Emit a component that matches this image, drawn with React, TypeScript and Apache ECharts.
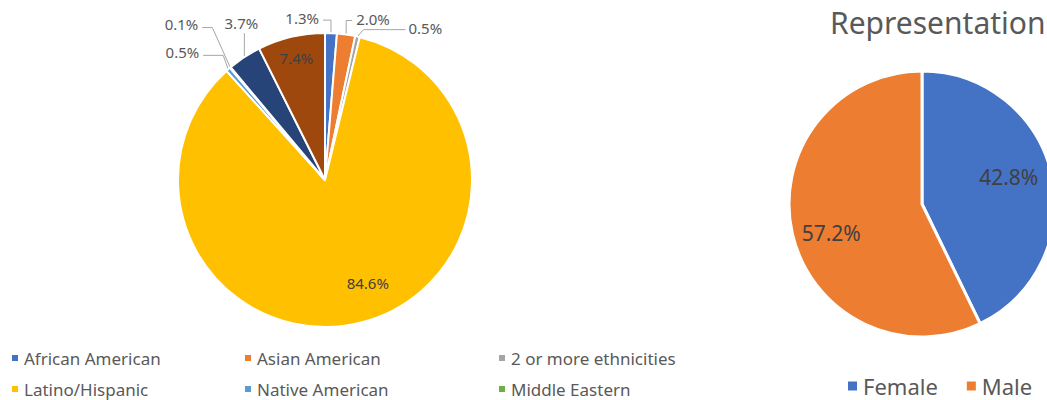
import React, { useEffect, useRef } from "react";
import * as echarts from "echarts";

const ethnicityNames = [
  "African American",
  "Asian American",
  "2 or more ethnicities",
  "Latino/Hispanic",
  "Native American",
  "Middle Eastern",
  "White",
  "Other",
];
const ethnicityValues = [1.3, 2.0, 0.5, 84.6, 0.5, 0.1, 3.7, 7.4];
const ethnicityColors = ["#4472C4", "#ED7D31", "#A5A5A5", "#FFC000", "#5B9BD5", "#70AD47", "#264478", "#9E480E"];
const legendColumns = [
  ["African American", "Latino/Hispanic"],
  ["Asian American", "Native American"],
  ["2 or more ethnicities", "Middle Eastern"],
];

const genderNames = ["Female", "Male"];
const genderValues = [42.8, 57.2];
const genderColors = ["#4472C4", "#ED7D31"];
const genderTitle = "Representation";

const FONT = "Noto Sans";
const pct = (p: any) => Number(p.value).toFixed(1) + "%";

export default function App() {
  const ref = useRef<HTMLDivElement>(null);
  useEffect(() => {
    document.body.style.margin = "0";
    if (!ref.current) return;
    const chart = echarts.init(ref.current, undefined, { renderer: "svg" });

    const leftCenter = [325, 180];
    const leftR = 147;
    const insideIdx = [3, 7];
    const insideShift: Record<number, [number, number]> = { 3: [24, 29], 7: [-11, -48] };
    const callouts: Record<number, { ex: number; ey: number; hx: number; align: string; lx: number; ly: number }> = {
      0: { ex: 0, ey: -13, hx: -8, align: "right", lx: -4, ly: -2 },
      1: { ex: 0, ey: -14, hx: 6, align: "left", lx: 4, ly: -2 },
      2: { ex: 6, ey: -7, hx: 42, align: "left", lx: 3, ly: -2 },
      4: { ex: -5, ey: -14, hx: -20, align: "right", lx: -4, ly: -3 },
      5: { ex: -18, ey: -40, hx: -10, align: "right", lx: -4, ly: -4 },
      6: { ex: 0, ey: -24, hx: 0, align: "center", lx: -3, ly: -10 },
    };
    const total = ethnicityValues.reduce((a, b) => a + b, 0);
    const anchorOf = (i: number): [number, number] => {
      let cum = 0;
      for (let k = 0; k < i; k++) cum += ethnicityValues[k];
      const mid = ((cum + ethnicityValues[i] / 2) / total) * Math.PI * 2;
      return [leftCenter[0] + leftR * Math.sin(mid), leftCenter[1] - leftR * Math.cos(mid)];
    };

    const legendBase = {
      orient: "vertical",
      top: 348,
      padding: 0,
      itemGap: 11,
      itemWidth: 8,
      itemHeight: 8,
      icon: "rect",
      selectedMode: false,
      textStyle: { fontFamily: FONT, fontSize: 17, color: "#595959", lineHeight: 20 },
    };

    chart.setOption({
      animation: false,
      textStyle: { fontFamily: FONT },
      title: {
        text: genderTitle,
        left: 830,
        top: 7,
        padding: 0,
        textStyle: { fontFamily: FONT, fontSize: 30, fontWeight: "normal", color: "#595959" },
      },
      legend: [
        { ...legendBase, left: 10, data: legendColumns[0] },
        { ...legendBase, left: 243, data: legendColumns[1] },
        { ...legendBase, left: 497, data: legendColumns[2] },
        {
          orient: "horizontal",
          left: 846,
          top: 375,
          padding: 0,
          itemGap: 27,
          itemWidth: 11,
          itemHeight: 11,
          icon: "rect",
          selectedMode: false,
          data: genderNames,
          textStyle: { fontFamily: FONT, fontSize: 22, color: "#595959", lineHeight: 22 },
        },
      ],
      series: [
        {
          type: "pie",
          center: leftCenter,
          radius: leftR,
          startAngle: 90,
          clockwise: true,
          avoidLabelOverlap: false,
          itemStyle: { borderColor: "#ffffff", borderWidth: 2 },
          label: {
            show: true,
            position: "outside",
            formatter: pct,
            fontFamily: FONT,
            fontSize: 15,
            color: "#595959",
          },
          labelLine: { show: true, length: 10, length2: 10, lineStyle: { color: "#A6A6A6", width: 1 } },
          labelLayout: (params: any) => {
            const i = params.dataIndex;
            if (insideShift[i]) return { dx: insideShift[i][0], dy: insideShift[i][1] };
            const c = callouts[i];
            if (!c) return {};
            const p0: [number, number] =
              params.labelLinePoints && params.labelLinePoints[0]
                ? [params.labelLinePoints[0][0], params.labelLinePoints[0][1]]
                : anchorOf(i);
            const elbow = [p0[0] + c.ex, p0[1] + c.ey];
            const end = [elbow[0] + c.hx, elbow[1]];
            return {
              x: end[0] + c.lx,
              y: end[1] + c.ly,
              align: c.align,
              verticalAlign: "middle",
              labelLinePoints: [p0, elbow, end],
            };
          },
          emphasis: { disabled: true },
          data: ethnicityNames.map((n, i) => ({
            name: n,
            value: ethnicityValues[i],
            itemStyle: { color: ethnicityColors[i] },
            ...(insideIdx.includes(i)
              ? { label: { position: "inside", color: "#404040" }, labelLine: { show: false } }
              : {}),
          })),
        },
        {
          type: "pie",
          center: [922, 204],
          radius: 133,
          startAngle: 90,
          clockwise: true,
          itemStyle: { borderColor: "#ffffff", borderWidth: 3 },
          label: {
            show: true,
            position: "inside",
            formatter: pct,
            fontFamily: FONT,
            fontSize: 21,
            color: "#404040",
          },
          labelLayout: (params: any) => (params.dataIndex === 0 ? { dx: 19, dy: -11 } : { dx: -23, dy: 13 }),
          emphasis: { disabled: true },
          data: genderNames.map((n, i) => ({ name: n, value: genderValues[i], itemStyle: { color: genderColors[i] } })),
        },
      ],
    });
    return () => chart.dispose();
  }, []);
  return <div ref={ref} style={{ width: 1047, height: 400 }} />;
}
